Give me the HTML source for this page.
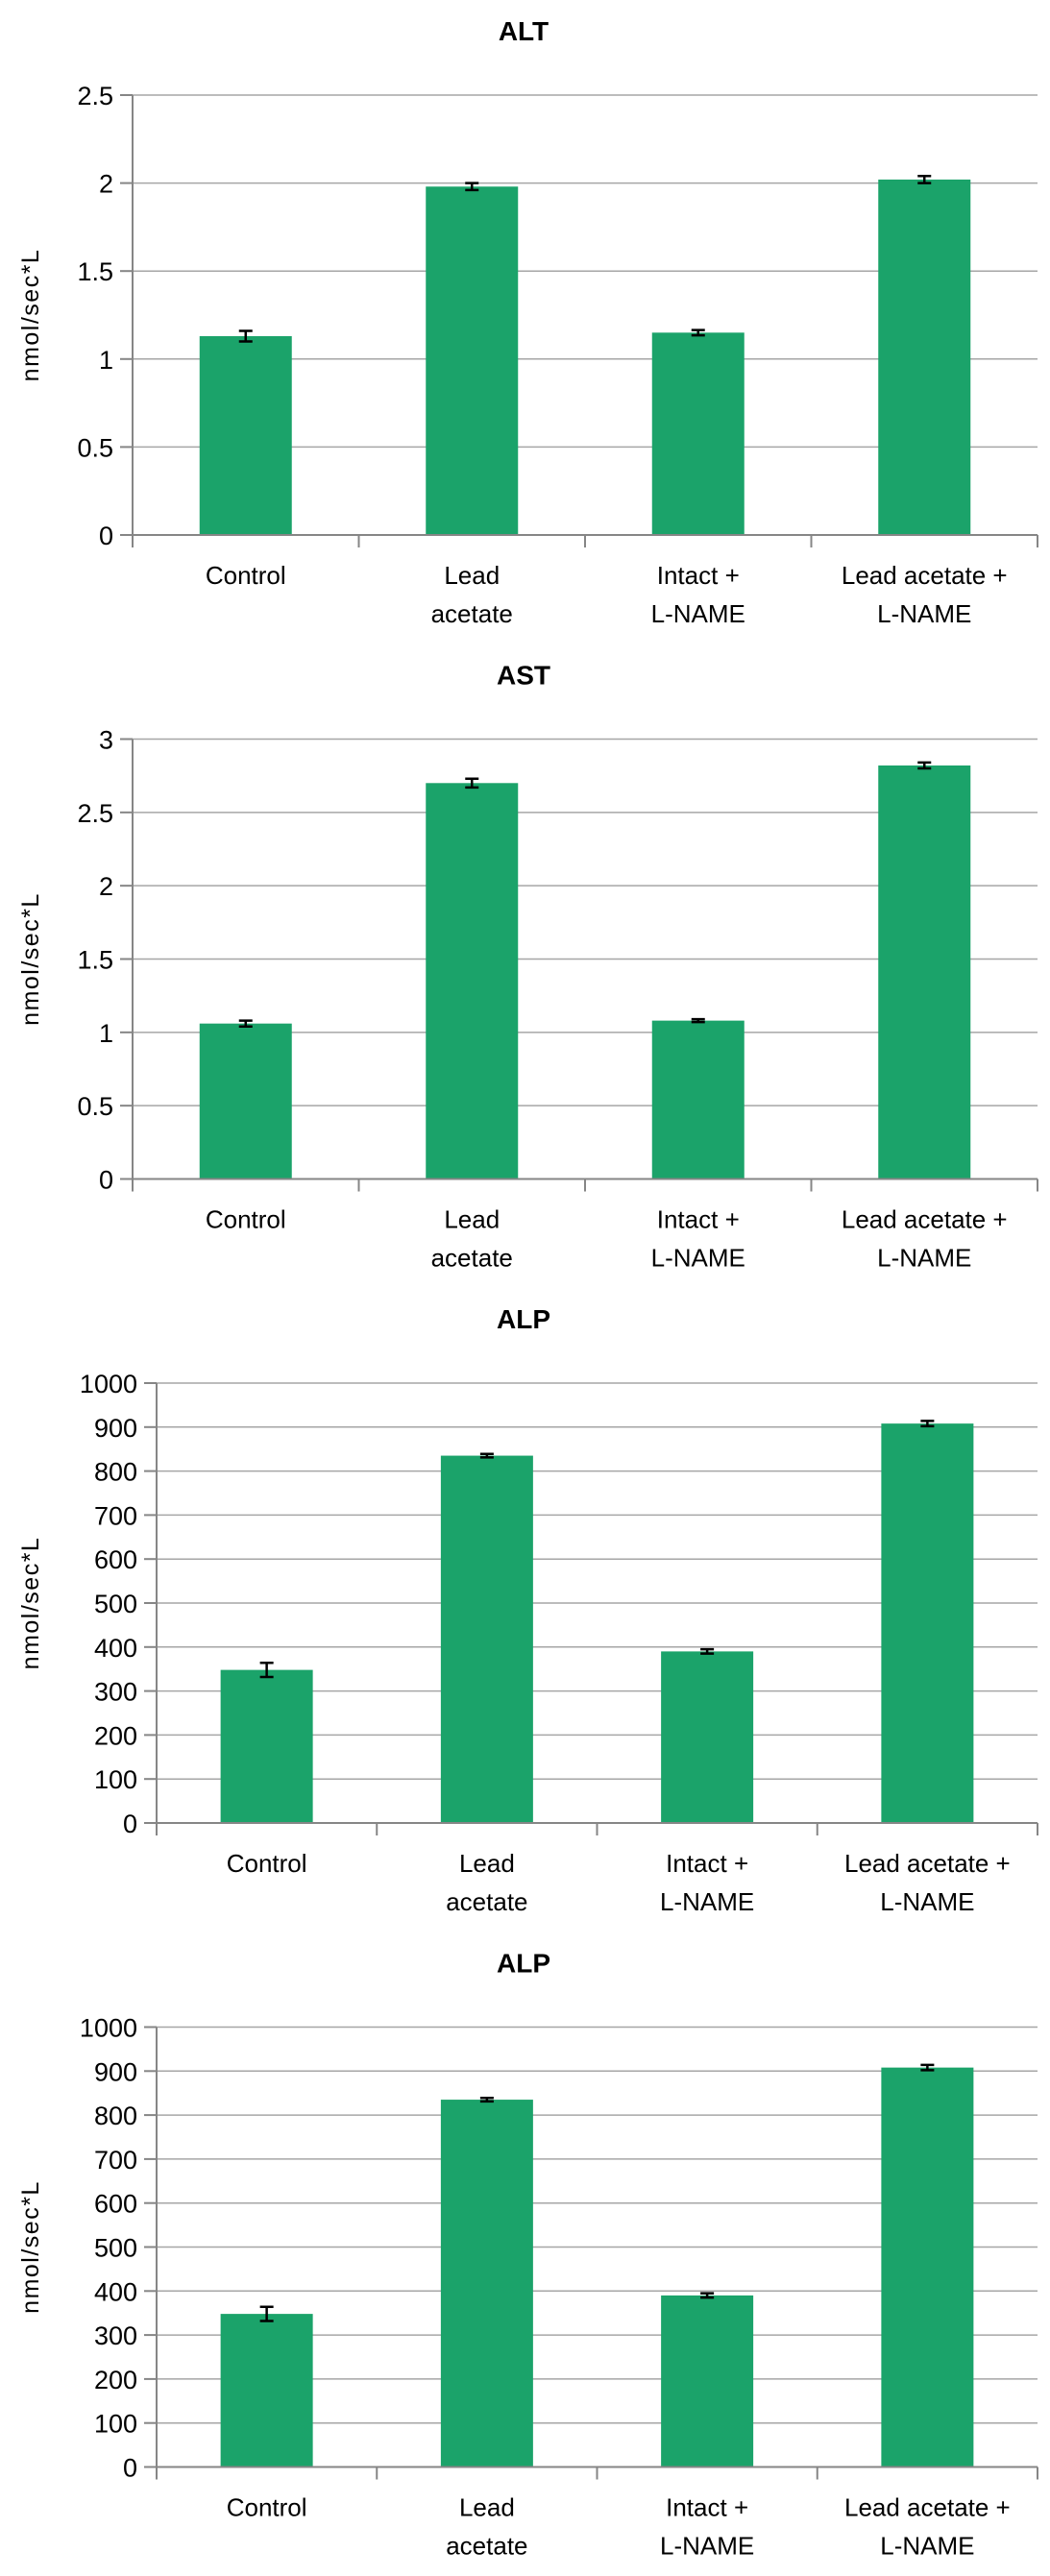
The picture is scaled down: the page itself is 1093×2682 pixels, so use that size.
<!DOCTYPE html>
<html><head><meta charset="utf-8"><style>
body{margin:0;background:#fff;}
svg{display:block;font-family:"Liberation Sans",sans-serif;}
</style></head><body>
<svg id="c" width="1093" height="2682"></svg>
<script>
const categories=[["Control"],["Lead","acetate"],["Intact +","L-NAME"],["Lead acetate +","L-NAME"]];
const altValues=[1.13,1.98,1.15,2.02];
const altErrors=[0.03,0.02,0.015,0.02];
const altTicks=[0,0.5,1,1.5,2,2.5];
const astValues=[1.06,2.70,1.08,2.82];
const astErrors=[0.02,0.03,0.01,0.02];
const astTicks=[0,0.5,1,1.5,2,2.5,3];
const alpValues=[348,835,390,908];
const alpErrors=[16,4,5,6];
const alpTicks=[0,100,200,300,400,500,600,700,800,900,1000];
const chartTitles=["ALT","AST","ALP","ALP"];
const NS="http://www.w3.org/2000/svg";
const svg=document.getElementById('c');
function mk(tag,attrs,parent){const e=document.createElementNS(NS,tag);for(const k in attrs)e.setAttribute(k,attrs[k]);parent.appendChild(e);return e;}
function drawChart(idx,title,values,errors,ticks,left){
  const oy=idx*670.5;
  const g=mk('g',{transform:`translate(0,${oy})`},svg);
  
  
  const right=1080, top=99, bottom=557;
  const maxV=ticks[ticks.length-1];
  const y=v=>bottom-(v/maxV)*(bottom-top);
  const bw=(right-left)/values.length;
  const x=i=>left+bw*(i+0.5);
  const t=mk('text',{x:545,y:42,'text-anchor':'middle','font-size':28,'font-weight':'bold',fill:'#000'},g);
  t.textContent=title;
  
  
  ticks.forEach(v=>{
    if(v>0){const gl=mk('line',{x1:left,x2:right,y1:y(v),y2:y(v),stroke:'#a6a6a6','stroke-width':1.5},g);
      
      }
    mk('line',{x1:left-13,x2:left,y1:y(v),y2:y(v),stroke:'#868686','stroke-width':2},g);
    const tl=mk('text',{x:left-20,y:y(v)+10,'text-anchor':'end','font-size':27,fill:'#000'},g);
    tl.textContent=String(v);
    
    
  });
  values.forEach((v,i)=>{
    const b=mk('rect',{x:x(i)-48,y:y(v),width:96,height:bottom-y(v),fill:'#1ba36a'},g);
    
    
    const e=errors[i],cx=x(i);
    const eb=mk('path',{d:`M${cx},${y(v+e)}V${y(v-e)}M${cx-7},${y(v+e)}H${cx+7}M${cx-7},${y(v-e)}H${cx+7}`,stroke:'#000','stroke-width':2.5,fill:'none'},g);
    
    
  });
  mk('line',{x1:left,x2:left,y1:top,y2:bottom,stroke:'#868686','stroke-width':2},g);
  mk('line',{x1:left,x2:right,y1:bottom,y2:bottom,stroke:'#868686','stroke-width':2},g);
  for(let i=0;i<=values.length;i++)mk('line',{x1:left+bw*i,x2:left+bw*i,y1:bottom,y2:bottom+13,stroke:'#868686','stroke-width':2},g);
  categories.forEach((c,i)=>{
    c.forEach((ln,j)=>{
      const cl=mk('text',{x:x(i),y:608+j*40,'text-anchor':'middle','font-size':26,fill:'#000'},g);
      cl.textContent=ln;
      
      
    });
  });
  const yt=mk('text',{transform:`translate(40,${(top+bottom)/2}) rotate(-90)`,'text-anchor':'middle','font-size':25,'letter-spacing':1.5,fill:'#000'},g);
  yt.textContent='nmol/sec*L';
  
  
}
drawChart(0,chartTitles[0],altValues,altErrors,altTicks,138);
drawChart(1,chartTitles[1],astValues,astErrors,astTicks,138);
drawChart(2,chartTitles[2],alpValues,alpErrors,alpTicks,163);
drawChart(3,chartTitles[3],alpValues,alpErrors,alpTicks,163);
</script>
</body></html>
